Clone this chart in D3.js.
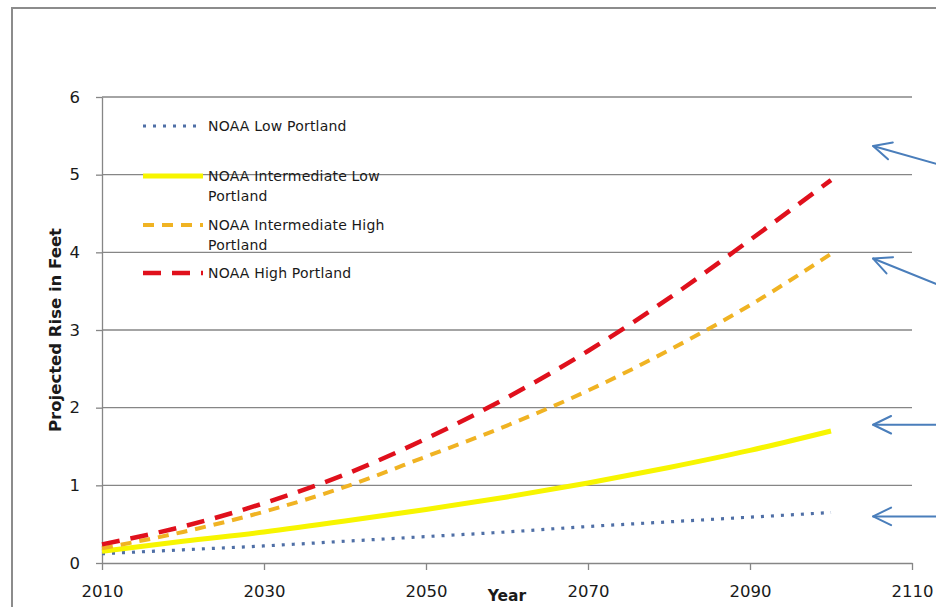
<!DOCTYPE html>
<html>
<head>
<meta charset="utf-8">
<script src="https://cdn.jsdelivr.net/npm/d3@7/dist/d3.min.js"></script>
<style>
  html, body { margin: 0; padding: 0; background: #fff; }
  svg { display: block; }
  text { font-family: "DejaVu Sans", sans-serif; fill: #1a1a1a; }
</style>
</head>
<body>
<svg id="chart" width="936" height="607"></svg>
<script>
// Projected sea-level rise for Portland under four NOAA scenarios (feet)
const years = [2010, 2020, 2030, 2040, 2050, 2060, 2070, 2080, 2090, 2100];
const noaaLow      = [0.12, 0.17, 0.22, 0.28, 0.34, 0.40, 0.47, 0.53, 0.59, 0.65];
const noaaIntLow   = [0.15, 0.28, 0.40, 0.54, 0.69, 0.85, 1.03, 1.23, 1.45, 1.70];
const noaaIntHigh  = [0.19, 0.40, 0.66, 0.98, 1.37, 1.77, 2.22, 2.74, 3.32, 3.98];
const noaaHigh     = [0.24, 0.47, 0.77, 1.14, 1.60, 2.13, 2.73, 3.41, 4.16, 4.93];

const seriesNames = [
  ["NOAA Low Portland"],
  ["NOAA Intermediate Low", "Portland"],
  ["NOAA Intermediate High", "Portland"],
  ["NOAA High Portland"]
];
const xTicks = [2010, 2030, 2050, 2070, 2090, 2110];
const yTicks = [0, 1, 2, 3, 4, 5, 6];

// Call-out arrows on the right margin: [tail year, tail feet] -> [tip year, tip feet]
const calloutArrows = [
  { from: [2114, 5.11], to: [2105.2, 5.37] },
  { from: [2114, 3.55], to: [2105.2, 3.92] },
  { from: [2114, 1.78], to: [2105.2, 1.78] },
  { from: [2114, 0.60], to: [2105.2, 0.60] }
];

const styles = [
  { color: "#4f6fa6", width: 3.2, dash: "3,7",   cap: "butt" },
  { color: "#f7f500", width: 5,   dash: null,    cap: "butt" },
  { color: "#f0b323", width: 4,   dash: "11,8",  cap: "butt" },
  { color: "#e0101c", width: 4.5, dash: "18,11", cap: "butt" }
];
const seriesValues = [noaaLow, noaaIntLow, noaaIntHigh, noaaHigh];

const svg = d3.select("#chart");

// chart frame
svg.append("rect")
  .attr("x", 12).attr("y", 8).attr("width", 1000).attr("height", 700)
  .attr("fill", "none").attr("stroke", "#8c8c8c").attr("stroke-width", 2);

const x = d3.scaleLinear().domain([2010, 2110]).range([102, 912]);
const y = d3.scaleLinear().domain([0, 6]).range([563, 97]);

// horizontal gridlines
svg.append("g")
  .selectAll("line")
  .data(yTicks.filter(d => d > 0))
  .join("line")
  .attr("x1", x(2010)).attr("x2", x(2110))
  .attr("y1", d => y(d)).attr("y2", d => y(d))
  .attr("stroke", "#868686").attr("stroke-width", 1.3);

// y axis
const yAxis = svg.append("g")
  .attr("transform", `translate(${x(2010)},0)`)
  .call(d3.axisLeft(y).tickValues(yTicks).tickFormat(d3.format("d")).tickSize(6).tickPadding(16).tickSizeOuter(0));
yAxis.select(".domain").attr("stroke", "#868686").attr("stroke-width", 1.3);
yAxis.selectAll(".tick line").attr("stroke", "#868686").attr("stroke-width", 1.3);
yAxis.selectAll(".tick text")
  .style("font-family", "'DejaVu Sans', sans-serif")
  .style("font-size", "16.5px").attr("fill", "#1a1a1a");

// x axis
const xAxis = svg.append("g")
  .attr("transform", `translate(0,${y(0)})`)
  .call(d3.axisBottom(x).tickValues(xTicks).tickFormat(d3.format("d")).tickSize(7).tickSizeOuter(0));
xAxis.select(".domain").attr("stroke", "#868686").attr("stroke-width", 1.3);
xAxis.selectAll(".tick line").attr("stroke", "#868686").attr("stroke-width", 1.3);
xAxis.selectAll(".tick text")
  .attr("y", 34).attr("dy", null)
  .style("font-family", "'DejaVu Sans', sans-serif")
  .style("font-size", "16.5px").attr("fill", "#1a1a1a");

// axis titles
svg.append("text")
  .attr("x", x(2060)).attr("y", 601)
  .attr("text-anchor", "middle")
  .style("font-size", "15.5px").style("font-weight", "bold")
  .text("Year");

svg.append("text")
  .attr("transform", `translate(61,${(y(0) + y(6)) / 2}) rotate(-90)`)
  .attr("text-anchor", "middle")
  .style("font-size", "16.5px").style("font-weight", "bold")
  .text("Projected Rise in Feet");

// series lines
const line = d3.line()
  .x((d, i) => x(years[i]))
  .y(d => y(d))
  .curve(d3.curveMonotoneX);

svg.append("g")
  .selectAll("path")
  .data(seriesValues)
  .join("path")
  .attr("d", d => line(d))
  .attr("fill", "none")
  .attr("stroke", (d, i) => styles[i].color)
  .attr("stroke-width", (d, i) => styles[i].width)
  .attr("stroke-dasharray", (d, i) => styles[i].dash)
  .attr("stroke-linecap", (d, i) => styles[i].cap)
  .attr("stroke-linejoin", "round");

// legend
const legendRows = [126, 176, 225, 273];
const legend = svg.append("g");
seriesNames.forEach((lines, i) => {
  const ly = legendRows[i];
  const s = styles[i];
  legend.append("line")
    .attr("x1", 143).attr("x2", 203).attr("y1", ly).attr("y2", ly)
    .attr("stroke", s.color).attr("stroke-width", s.width)
    .attr("stroke-dasharray", s.dash);
  lines.forEach((t, j) => {
    legend.append("text")
      .attr("x", 208).attr("y", ly + j * 20)
      .attr("dy", "0.35em")
      .style("font-size", "14px")
      .style("letter-spacing", "0.2px")
      .text(t);
  });
});

// call-out arrows
const arrowColor = "#4a7ebb";
const arrows = svg.append("g")
  .attr("fill", "none").attr("stroke", arrowColor)
  .attr("stroke-width", 2).attr("stroke-linecap", "round").attr("stroke-linejoin", "round");
calloutArrows.forEach(a => {
  const x0 = x(a.from[0]), y0 = y(a.from[1]);
  const x1 = x(a.to[0]),   y1 = y(a.to[1]);
  arrows.append("line").attr("x1", x0).attr("y1", y0).attr("x2", x1).attr("y2", y1);
  const ang = Math.atan2(y0 - y1, x0 - x1);
  const len = 20, spread = 26 * Math.PI / 180;
  const p1 = [x1 + len * Math.cos(ang - spread), y1 + len * Math.sin(ang - spread)];
  const p2 = [x1 + len * Math.cos(ang + spread), y1 + len * Math.sin(ang + spread)];
  arrows.append("path").attr("d", d3.line()([p1, [x1, y1], p2]));
});
</script>
</body>
</html>
